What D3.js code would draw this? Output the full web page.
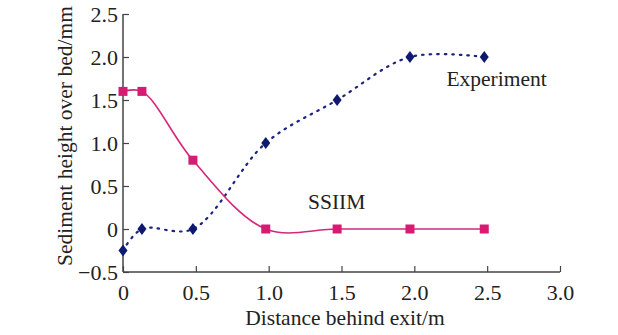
<!DOCTYPE html>
<html>
<head>
<meta charset="utf-8">
<script src="https://cdn.jsdelivr.net/npm/d3@7"></script>
<style>
  body { margin: 0; background: #fff; }
  text { font-family: "Liberation Serif", "Times New Roman", serif; fill: #222; }
</style>
</head>
<body>
<div id="chart"></div>
<script>
// values
const distance = [0, 0.13, 0.48, 0.98, 1.47, 1.97, 2.48];
const ssiim = [1.6, 1.6, 0.8, 0, 0, 0, 0];
const experiment = [-0.25, 0, 0, 1.0, 1.5, 2.0, 2.0];
const xTicks = [0, 0.5, 1.0, 1.5, 2.0, 2.5, 3.0];
const yTicks = [-0.5, 0, 0.5, 1.0, 1.5, 2.0, 2.5];

const W = 618, H = 335;
const margin = {left: 123, right: 58, top: 14, bottom: 63};
const width = W - margin.left - margin.right;
const height = H - margin.top - margin.bottom;

const svg = d3.select('#chart').append('svg')
  .attr('width', W)
  .attr('height', H);

const g = svg.append('g')
  .attr('transform', `translate(${margin.left}, ${margin.top})`);

const x = d3.scaleLinear().domain([0, 3]).range([0, width]);
const y = d3.scaleLinear().domain([-0.5, 2.5]).range([height, 0]);

const fmt = d => d === 0 ? '0' : d3.format('.1f')(d).replace('-', '\u2212');

//x axis, ticks point up into the plot
const xAxis = g.append('g')
  .attr('transform', `translate(0, ${height})`)
  .call(d3.axisTop(x).tickValues(xTicks).tickFormat(fmt).tickSize(6).tickPadding(0));
xAxis.selectAll('text')
  .attr('y', 12)
  .attr('dy', '0.71em');

//y axis, ticks point right
const yAxis = g.append('g')
  .call(d3.axisRight(y).tickValues(yTicks).tickFormat(fmt).tickSize(6));
yAxis.selectAll('text')
  .attr('x', -5)
  .style('text-anchor', 'end');

[xAxis, yAxis].forEach(a => {
  a.select('.domain').attr('stroke', '#444').attr('stroke-width', 1.5);
  a.selectAll('.tick line').attr('stroke', '#444').attr('stroke-width', 1.2);
  a.selectAll('.tick text').style('font-size', '22px').attr('fill', '#222');
});
// draw the domains without end caps
xAxis.select('.domain').attr('d', `M0,0H${width}`);
yAxis.select('.domain').attr('d', `M0,0V${height}`);

const line = d3.line()
  .x(d => x(d[0]))
  .y(d => y(d[1]))
  .curve(d3.curveCatmullRom.alpha(0.5));

const expData = distance.map((d, i) => [d, experiment[i]]);
const ssData = distance.map((d, i) => [d, ssiim[i]]);

g.append('path')
  .datum(expData)
  .attr('fill', 'none')
  .attr('stroke', '#1a237e')
  .attr('stroke-width', 2.2)
  .attr('stroke-dasharray', '1.5 6')
  .attr('stroke-linecap', 'round')
  .attr('d', line);

g.append('path')
  .datum(ssData)
  .attr('fill', 'none')
  .attr('stroke', '#d6277a')
  .attr('stroke-width', 1.6)
  .attr('d', line);

g.selectAll('.sq')
  .data(ssData)
  .join('rect')
  .attr('class', 'sq')
  .attr('x', d => x(d[0]) - 4.5)
  .attr('y', d => y(d[1]) - 4.5)
  .attr('width', 9)
  .attr('height', 9)
  .attr('fill', '#d81b72');

g.selectAll('.dia')
  .data(expData)
  .join('path')
  .attr('class', 'dia')
  .attr('transform', d => `translate(${x(d[0])}, ${y(d[1])})`)
  .attr('d', 'M0,-6L4.5,0L0,6L-4.5,0Z')
  .attr('fill', '#0d1a6e');

//series labels
g.append('text')
  .attr('x', x(2.22))
  .attr('y', y(1.66))
  .style('font-size', '21.5px')
  .text('Experiment');

g.append('text')
  .attr('x', x(1.27))
  .attr('y', y(0.23))
  .style('font-size', '21.5px')
  .text('SSIIM');

//axis titles
svg.append('text')
  .attr('x', 345)
  .attr('y', 325)
  .style('text-anchor', 'middle')
  .style('font-size', '21.5px')
  .text('Distance behind exit/m');

svg.append('text')
  .attr('transform', `translate(72, 136) rotate(-90)`)
  .style('text-anchor', 'middle')
  .style('font-size', '21.5px')
  .text('Sediment height over bed/mm');
</script>
</body>
</html>
